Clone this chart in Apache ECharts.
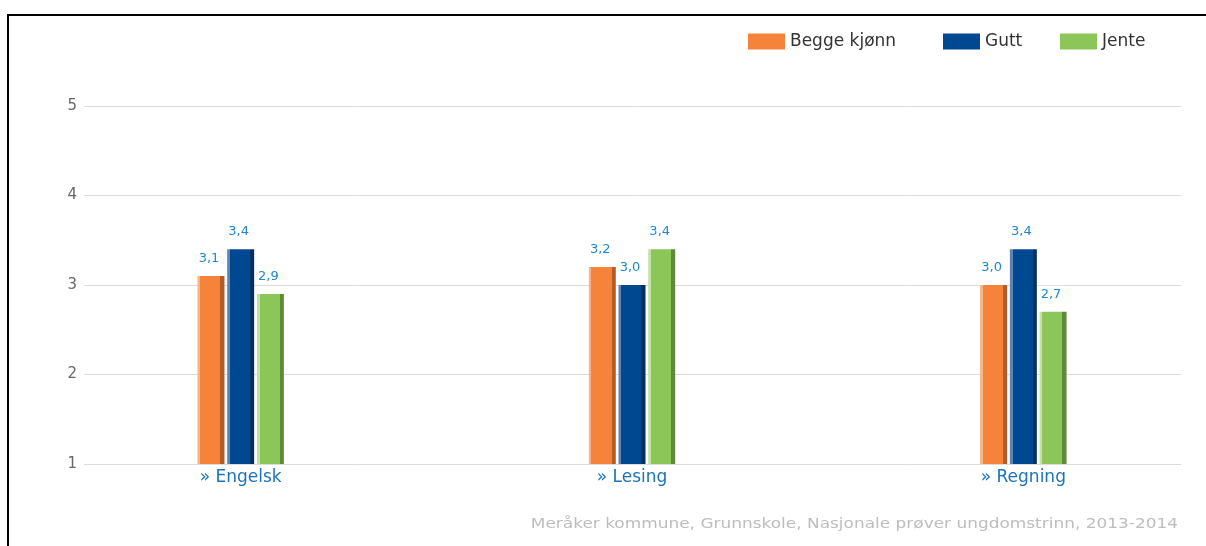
<!DOCTYPE html>
<html>
<head>
<meta charset="utf-8">
<script src="https://cdn.jsdelivr.net/npm/echarts@6/dist/echarts.min.js"></script>
<style>
  html, body { margin: 0; padding: 0; background: #fff; }
  #chart { width: 1206px; height: 546px; }
</style>
</head>
<body>
<div id="chart"></div>
<script>
var subjects = ['Engelsk', 'Lesing', 'Regning'];
var seriesNames = ['Begge kjønn', 'Gutt', 'Jente'];
var begge = [3.1, 3.2, 3.0];
var gutt = [3.4, 3.0, 3.4];
var jente = [2.9, 3.4, 2.7];
var yTicks = [1, 2, 3, 4, 5];
var footer = 'Meråker kommune, Grunnskole, Nasjonale prøver ungdomstrinn, 2013-2014';

var font = 'DejaVu Sans';
// [light, main, dark]
var palette = [
  ['#f8b488', '#f5843a', '#b35c27'],
  ['#5e83b5', '#004990', '#002f60'],
  ['#c2e3a3', '#8cc658', '#5e8a39']
];
var legendLeft = [743, 938, 1055];

function barColor(p) {
  return new echarts.graphic.LinearGradient(0, 0, 1, 0, [
    { offset: 0, color: p[0] },
    { offset: 0.1, color: p[0] },
    { offset: 0.1, color: p[1] },
    { offset: 0.85, color: p[1] },
    { offset: 0.85, color: p[2] },
    { offset: 1, color: p[2] }
  ]);
}

function makeSeries(name, data, idx) {
  return {
    name: name,
    type: 'bar',
    xAxisIndex: 1,
    yAxisIndex: 1,
    barWidth: 27,
    barGap: '10%',
    data: data,
    itemStyle: { color: barColor(palette[idx]) },
    label: {
      show: true,
      position: 'top',
      distance: 9,
      offset: [-2, 0],
      color: '#1f87d2',
      fontFamily: font,
      fontSize: 13,
      backgroundColor: '#fff',
      padding: [2, 3],
      formatter: function (p) { return p.value.toFixed(1).replace('.', ','); }
    }
  };
}

// one legend per item so each swatch sits where the reference has it
var legends = seriesNames.map(function (name, i) {
  return {
    data: [{ name: name, itemStyle: { color: palette[i][1] } }],
    left: legendLeft[i],
    top: 28,
    icon: 'rect',
    itemWidth: 37,
    itemHeight: 16,
    textStyle: { color: '#333', fontSize: 17, fontFamily: font }
  };
});

var chart = echarts.init(document.getElementById('chart'));

var option = {
  animation: false,
  color: [palette[0][1], palette[1][1], palette[2][1]],
  legend: legends,
  grid: [
    { left: 84, right: 25, top: 106, bottom: 82, outerBoundsMode: 'none' },
    { left: 45, width: 1174, top: 106, bottom: 82, outerBoundsMode: 'none' }
  ],
  xAxis: [
    { type: 'category', gridIndex: 0, data: subjects, show: false },
    {
      type: 'category',
      gridIndex: 1,
      data: subjects,
      axisLine: { show: false },
      axisTick: { show: false },
      axisLabel: {
        margin: 5,
        color: '#1b74b9',
        fontSize: 17,
        fontFamily: font,
        formatter: function (v) { return '» ' + v; }
      }
    }
  ],
  yAxis: [
    {
      type: 'value',
      gridIndex: 0,
      min: yTicks[0],
      max: yTicks[yTicks.length - 1],
      interval: 1,
      axisLine: { show: false },
      axisTick: { show: false },
      axisLabel: { margin: 7, color: '#666', fontSize: 15, fontFamily: font },
      splitLine: { lineStyle: { color: '#dcdcdc', width: 1 } }
    },
    {
      type: 'value',
      gridIndex: 1,
      min: yTicks[0],
      max: yTicks[yTicks.length - 1],
      interval: 1,
      show: false,
      splitLine: { show: false }
    }
  ],
  graphic: [
    {
      type: 'polyline',
      shape: { points: [[8, 546], [8, 15], [1206, 15]] },
      style: { stroke: '#000', lineWidth: 2, fill: null }
    },
    {
      type: 'text',
      x: 1178,
      y: 524,
      scaleX: 1.21,
      style: {
        text: footer, fill: '#bdbdbd', fontSize: 14, fontFamily: font,
        align: 'right', verticalAlign: 'middle'
      }
    }
  ],
  series: [
    makeSeries(seriesNames[0], begge, 0),
    makeSeries(seriesNames[1], gutt, 1),
    makeSeries(seriesNames[2], jente, 2)
  ]
};

chart.setOption(option);
</script>
</body>
</html>
